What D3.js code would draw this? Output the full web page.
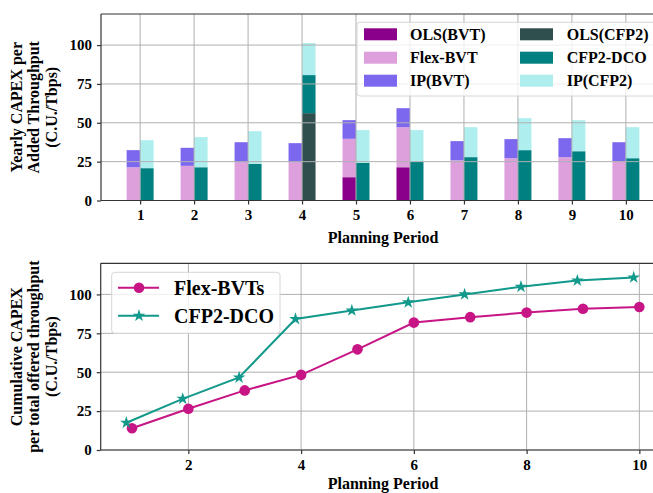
<!DOCTYPE html>
<html><head><meta charset="utf-8">
<script src="https://cdn.jsdelivr.net/npm/d3@7"></script>
<style>
html,body{margin:0;padding:0;background:#fff;}
svg{display:block;font-family:"Liberation Serif","Times New Roman",serif;font-weight:bold;}
</style></head>
<body><svg id="c" width="653" height="493"></svg>
<script>
// ---- data ----
const periods = [1,2,3,4,5,6,7,8,9,10];
const olsBVT   = [0,0,0,0,15.0,21.4,0,0,0,0];
const flexBVT  = [21.4,22.3,24.7,24.7,24.7,25.8,25.9,27.2,27.9,25.3];
const ipBVT    = [11.0,11.6,12.8,12.2,12.0,12.2,12.3,12.3,12.2,12.2];
const olsCFP2  = [0,0,0,56.2,0,0,0,0,0,0];
const cfp2DCO  = [20.8,21.4,23.6,24.5,24.2,24.9,27.9,32.4,31.7,27.2];
const ipCFP2   = [18.0,19.4,21.0,20.6,21.1,20.4,19.3,20.6,20.0,20.0];
const cumFlex  = [14.0,26.5,38.3,48.3,64.7,81.9,85.4,88.3,90.8,91.9];
const cumCFP2  = [17.5,32.9,46.6,84.2,89.7,94.9,100.0,104.9,108.9,110.9];
const yTicks   = [0,25,50,75,100];
const xTicksBottom = [2,4,6,8,10];
const barLegend = ["OLS(BVT)","Flex-BVT","IP(BVT)","OLS(CFP2)","CFP2-DCO","IP(CFP2)"];
const barColors = ["#8B008B","#DDA0DD","#7B68EE","#2F4F4F","#008080","#AFEEEE"];
const lineNames = ["Flex-BVTs","CFP2-DCO"];
const lineColors = ["#C71585","#12998b"];

const svg = d3.select("#c");
const gridColor = "#b0b0b0", spineColor = "#333";

function frame(g, x, y, xt, top, bottom, left, right) {
  g.append("line").attr("x1",left).attr("x2",right).attr("y1",top).attr("y2",top).attr("stroke",spineColor).attr("stroke-width",1.2);
  g.append("line").attr("x1",left).attr("x2",right).attr("y1",bottom).attr("y2",bottom).attr("stroke",spineColor).attr("stroke-width",1.2);
  g.append("line").attr("x1",left).attr("x2",left).attr("y1",top).attr("y2",bottom).attr("stroke",spineColor).attr("stroke-width",1.2);
  const xa = g.append("g").attr("transform",`translate(0,${bottom})`)
    .call(d3.axisBottom(x).tickValues(xt).tickSize(4).tickPadding(5).tickFormat(d3.format("d")));
  xa.select(".domain").remove();
  const ya = g.append("g").attr("transform",`translate(${left},0)`)
    .call(d3.axisLeft(y).tickValues(yTicks).tickSize(4).tickPadding(5));
  ya.select(".domain").remove();
  g.selectAll(".tick line").attr("stroke",spineColor).attr("stroke-width",1.2);
  g.selectAll(".tick text").attr("font-family","Liberation Serif").attr("font-weight","bold").attr("font-size",15).attr("fill","#000");
}
function grid(g, x, y, xt, top, bottom, left, right) {
  xt.forEach(v => g.append("line").attr("x1",x(v)).attr("x2",x(v)).attr("y1",top).attr("y2",bottom).attr("stroke",gridColor).attr("stroke-width",1));
  yTicks.forEach(v => g.append("line").attr("x1",left).attr("x2",right).attr("y1",y(v)).attr("y2",y(v)).attr("stroke",gridColor).attr("stroke-width",1));
}
function ylabel(lines, cy) {
  const bl = [21.5, 39.3, 57];
  lines.forEach((t,i) => svg.append("text").attr("transform",`translate(${bl[i]},${cy}) rotate(-90)`)
    .attr("text-anchor","middle").attr("font-size",16).text(t));
}

// ---- top chart ----
{
  const L=101, R=665, T=14, B=200.5;
  const x = d3.scaleLinear().domain([0.275,10.725]).range([L,R]);
  const y = d3.scaleLinear().domain([0,120]).range([B,T]);
  const g = svg.append("g");
  const w = 0.25;
  const rows = periods.map((p,i)=>({p, olsBVT:olsBVT[i], flexBVT:flexBVT[i], ipBVT:ipBVT[i], olsCFP2:olsCFP2[i], cfp2DCO:cfp2DCO[i], ipCFP2:ipCFP2[i]}));
  const sB = d3.stack().keys(["olsBVT","flexBVT","ipBVT"])(rows);
  const sC = d3.stack().keys(["olsCFP2","cfp2DCO","ipCFP2"])(rows);
  sB.forEach((layer,k)=>{
    g.selectAll(null).data(layer).enter().append("rect")
      .attr("x",d=>x(d.data.p-w)).attr("width",d=>x(d.data.p)-x(d.data.p-w))
      .attr("y",d=>y(d[1])).attr("height",d=>y(d[0])-y(d[1])).attr("fill",barColors[k]);
  });
  sC.forEach((layer,k)=>{
    g.selectAll(null).data(layer).enter().append("rect")
      .attr("x",d=>x(d.data.p)).attr("width",d=>x(d.data.p+w)-x(d.data.p))
      .attr("y",d=>y(d[1])).attr("height",d=>y(d[0])-y(d[1])).attr("fill",barColors[k+3]);
  });
  grid(g,x,y,periods,T,B,L,R);
  frame(g,x,y,periods,T,B,L,R);
  svg.append("text").attr("x",383).attr("y",243).attr("text-anchor","middle").attr("font-size",16).text("Planning Period");
  ylabel(["Yearly CAPEX per","Added Throughput","(C.U./Tbps)"], (T+B)/2);
  const lg = svg.append("g");
  lg.append("rect").attr("x",357).attr("y",22.3).attr("width",330).attr("height",73.7).attr("rx",3)
    .attr("fill","#fff").attr("fill-opacity",0.8).attr("stroke","#d6d6d6").attr("stroke-width",1);
  const rowY=[34.3,57.7,80.7], colP=[364,520], colT=[410,566.7];
  barLegend.forEach((name,i)=>{
    const c=Math.floor(i/3), r=i%3;
    lg.append("rect").attr("x",colP[c]).attr("y",rowY[r]-6).attr("width",33).attr("height",12).attr("fill",barColors[i]);
    lg.append("text").attr("x",colT[c]).attr("y",rowY[r]+5.6).attr("font-size",16).text(name);
  });
}

// ---- bottom chart ----
{
  const L=100.7, R=665, T=263.3, B=450;
  const x = d3.scaleLinear().domain([0.445,10.455]).range([L,R]);
  const y = d3.scaleLinear().domain([0,120]).range([B,T]);
  const g = svg.append("g");
  grid(g,x,y,xTicksBottom,T,B,L,R);
  frame(g,x,y,xTicksBottom,T,B,L,R);
  const line = d3.line().x(d=>x(d[0])).y(d=>y(d[1]));
  const d1 = periods.map((p,i)=>[p,cumFlex[i]]);
  const d2 = periods.map((p,i)=>[p-0.1,cumCFP2[i]]);
  g.append("path").attr("d",line(d1)).attr("fill","none").attr("stroke",lineColors[0]).attr("stroke-width",2);
  g.append("path").attr("d",line(d2)).attr("fill","none").attr("stroke",lineColors[1]).attr("stroke-width",2);
  g.selectAll(null).data(d1).enter().append("circle").attr("cx",d=>x(d[0])).attr("cy",d=>y(d[1])).attr("r",5.3).attr("fill",lineColors[0]);
  const star = d3.symbol().type(d3.symbolStar).size(50);
  g.selectAll(null).data(d2).enter().append("path").attr("d",star).attr("transform",d=>`translate(${x(d[0])},${y(d[1])})`).attr("fill",lineColors[1]);
  svg.append("text").attr("x",383).attr("y",489).attr("text-anchor","middle").attr("font-size",16).text("Planning Period");
  ylabel(["Cumulative CAPEX","per total offered throughput","(C.U./Tbps)"], (T+B)/2);
  const lg = svg.append("g");
  lg.append("rect").attr("x",111.7).attr("y",272.3).attr("width",168.3).attr("height",61).attr("rx",3)
    .attr("fill","#fff").attr("fill-opacity",0.8).attr("stroke","#d6d6d6").attr("stroke-width",1);
  const rowY=[287.7,315.7];
  lineNames.forEach((n,i)=>{
    lg.append("line").attr("x1",118).attr("x2",159).attr("y1",rowY[i]).attr("y2",rowY[i]).attr("stroke",lineColors[i]).attr("stroke-width",2);
    if(i===0) lg.append("circle").attr("cx",139).attr("cy",rowY[i]).attr("r",5.3).attr("fill",lineColors[0]);
    else lg.append("path").attr("d",star).attr("transform",`translate(139,${rowY[i]})`).attr("fill",lineColors[1]);
    lg.append("text").attr("x",174).attr("y",rowY[i]+7).attr("font-size",20).text(n);
  });
}
</script></body></html>
